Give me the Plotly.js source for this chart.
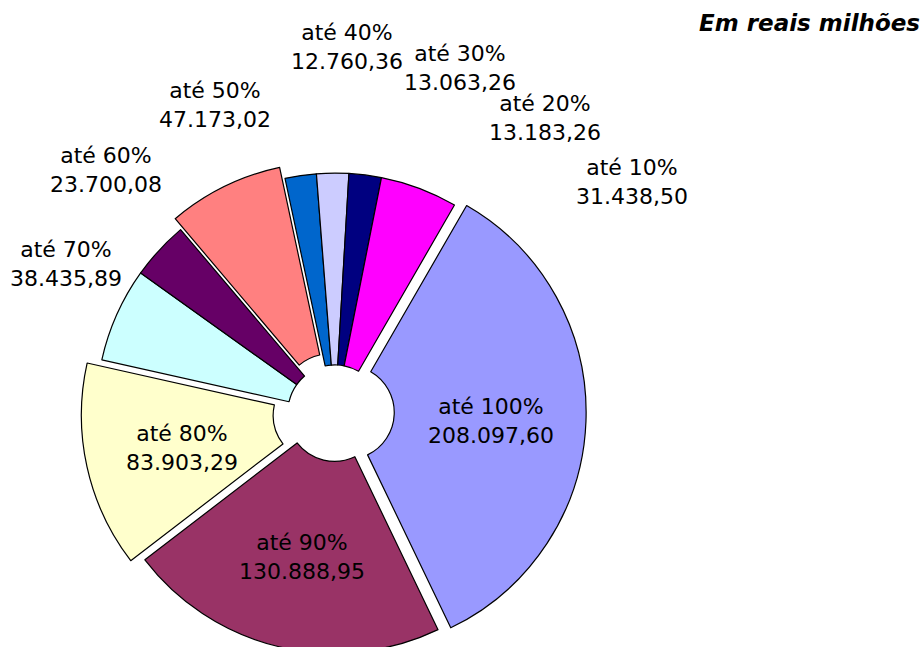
<!DOCTYPE html>
<html>
<head>
<meta charset="utf-8">
<script src="https://cdn.plot.ly/plotly-3.0.1.min.js"></script>
<style>
html, body { margin: 0; padding: 0; overflow: hidden; background: #fff; }
#chart { width: 924px; height: 700px; }
</style>
</head>
<body>
<div id="chart"></div>
<script>
// Data (clockwise order, starting from the right-hand slice)
var categories = ['até 100%', 'até 90%', 'até 80%', 'até 70%', 'até 60%', 'até 50%', 'até 40%', 'até 30%', 'até 20%', 'até 10%'];
var values = [208097.60, 130888.95, 83903.29, 38435.89, 23700.08, 47173.02, 12760.36, 13063.26, 13183.26, 31438.50];
var unitLabel = 'Em reais milhões';

// Styles
var colors = ['#9999FF', '#993366', '#FFFFCC', '#CCFFFF', '#660066', '#FF8080', '#0066CC', '#CCCCFF', '#000080', '#FF00FF'];
var pulls = [0.051, 0.01, 0.063, 0, 0, 0.051, 0, 0, 0, 0];
// label centre positions in pixels (x from left, y from top)
var labelPos = [[491, 421], [302, 557], [182, 448], [66, 264], [106, 170], [215, 105], [347, 47], [460, 68], [545, 118], [632, 182]];

var W = 924, H = 700;

function fmtBR(v) {
  var s = v.toFixed(2).split('.');
  var intPart = s[0].replace(/\B(?=(\d{3})+(?!\d))/g, '.');
  return intPart + ',' + s[1];
}

var annotations = categories.map(function (c, i) {
  return {
    text: c + '<br>' + fmtBR(values[i]),
    x: labelPos[i][0] / W,
    y: (H - labelPos[i][1]) / H,
    xref: 'paper', yref: 'paper',
    xanchor: 'center', yanchor: 'middle',
    showarrow: false,
    align: 'center',
    font: { family: 'DejaVu Sans, Verdana, sans-serif', size: 22, color: '#000000' }
  };
});

var cx = 335, cy = 412, half = 254;

var trace = {
  type: 'pie',
  labels: categories,
  values: values,
  sort: false,
  direction: 'clockwise',
  rotation: 30,
  hole: 0.197,
  pull: pulls,
  textinfo: 'none',
  hoverinfo: 'label+value',
  marker: { colors: colors, line: { color: '#000000', width: 1.2 } },
  domain: { x: [(cx - half) / W, (cx + half) / W], y: [(H - cy - half) / H, (H - cy + half) / H] },
  showlegend: false
};

var layout = {
  width: W, height: H,
  margin: { l: 0, r: 0, t: 0, b: 0 },
  paper_bgcolor: '#ffffff',
  plot_bgcolor: '#ffffff',
  showlegend: false,
  title: {
    text: unitLabel,
    x: 920 / W, xanchor: 'right', xref: 'container',
    y: 1 - 23 / H, yanchor: 'middle', yref: 'container',
    font: { family: 'DejaVu Sans, Verdana, sans-serif', size: 23, color: '#000000', weight: 'bold', style: 'italic' }
  },
  annotations: annotations
};

Plotly.newPlot('chart', [trace], layout, { displayModeBar: false, staticPlot: true });
</script>
</body>
</html>
